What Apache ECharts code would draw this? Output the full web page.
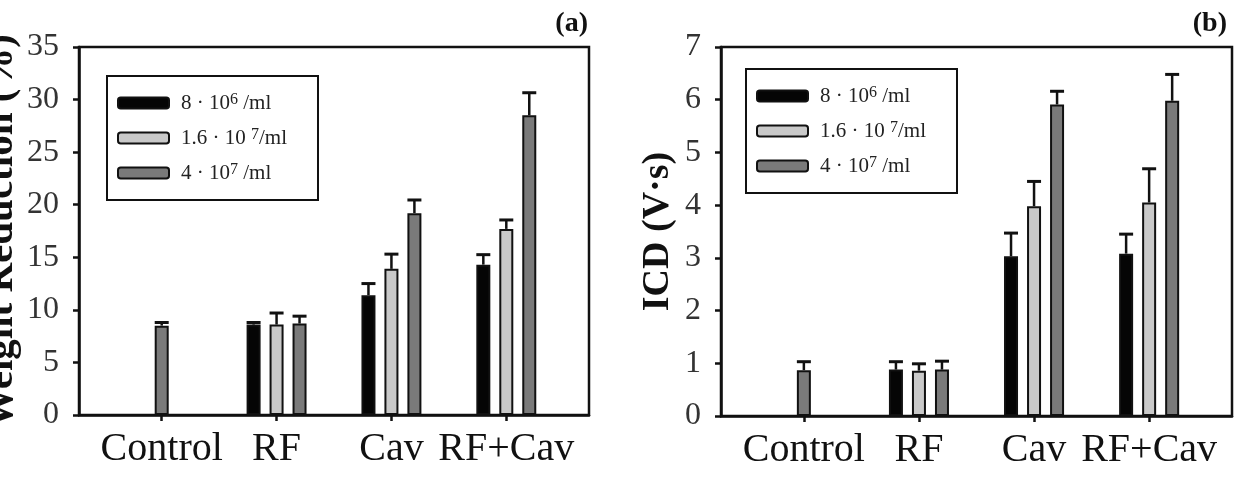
<!DOCTYPE html>
<html>
<head>
<meta charset="utf-8">
<script src="https://cdn.jsdelivr.net/npm/echarts@6/dist/echarts.min.js"></script>
<style>
  html, body { margin: 0; background: #fff; }
  #chart { width: 1242px; height: 477px; }
</style>
</head>
<body>
<div id="chart"></div>
<script>
// categories and series (bubble concentrations)
var categories = ['Control', 'RF', 'Cav', 'RF+Cav'];
var seriesNames = ['8 · 10^6 /ml', '1.6 · 10^7 /ml', '4 · 10^7 /ml'];
var legendLabels = ['8 · 10{s|6} /ml', '1.6 · 10 {s|7}/ml', '4 · 10{s|7} /ml'];

// (a) weight reduction (%)
var wrLow = [null, 8.6, 11.4, 14.3];
var wrMid = [null, 8.6, 13.9, 17.7];
var wrHigh = [8.5, 8.7, 19.2, 28.5];
var wrLowErr = [null, 0.2, 1.1, 0.95];
var wrMidErr = [null, 1.1, 1.4, 0.85];
var wrHighErr = [0.3, 0.7, 1.25, 2.15];

// (b) ICD (V·s)
var icdLow = [null, 0.88, 3.03, 3.08];
var icdMid = [null, 0.86, 3.98, 4.05];
var icdHigh = [0.87, 0.88, 5.91, 5.98];
var icdLowErr = [null, 0.15, 0.44, 0.37];
var icdMidErr = [null, 0.13, 0.47, 0.64];
var icdHighErr = [0.16, 0.16, 0.25, 0.5];

var fills = ['#050505', '#c9c9c9', '#7a7a7a'];
var font = 'Liberation Serif';

// x position of a bar: centered when it is alone in its group
function xPos(group, i, s) {
  var n = group.filter(function (arr) { return arr[i] != null; }).length;
  return n === 1 ? i : i + (s - 1) * 0.2;
}

function makeSeries(group, errs, g) {
  var out = [];
  group.forEach(function (vals, s) {
    var bars = [], eb = [];
    vals.forEach(function (v, i) {
      if (v == null) return;
      var x = xPos(group, i, s);
      bars.push([x, v]);
      eb.push([x, v, v + errs[s][i]]);
    });
    out.push({
      type: 'bar',
      name: seriesNames[s],
      xAxisIndex: g,
      yAxisIndex: g,
      barWidth: 14,
      barGap: '-100%',
      itemStyle: { color: fills[s], borderColor: '#111', borderWidth: 2 },
      data: bars
    });
    out.push({
      type: 'custom',
      xAxisIndex: g,
      yAxisIndex: g,
      z: 5,
      silent: true,
      data: eb,
      renderItem: function (params, api) {
        var base = api.coord([api.value(0), api.value(1)]);
        var top = api.coord([api.value(0), api.value(2)]);
        return {
          type: 'group',
          children: [
            { type: 'line', shape: { x1: base[0], y1: base[1], x2: top[0], y2: top[1] },
              style: { stroke: '#111', lineWidth: 2.5 } },
            { type: 'line', shape: { x1: top[0] - 7, y1: top[1], x2: top[0] + 7, y2: top[1] },
              style: { stroke: '#111', lineWidth: 3 } }
          ]
        };
      }
    });
  });
  return out;
}

function xAxisFor(g) {
  return {
    type: 'value', gridIndex: g, min: -0.72, max: 3.72,
    axisLine: { show: true, onZero: false, lineStyle: { color: '#111', width: 2.5 } },
    axisTick: { show: true, customValues: [0, 1, 2, 3], length: 6, lineStyle: { color: '#111', width: 2.5 } },
    axisLabel: {
      customValues: [0, 1, 2, 3], margin: 14,
      fontFamily: font, fontSize: 40, color: '#111',
      formatter: function (v) { return categories[Math.round(v)]; }
    },
    splitLine: { show: false }
  };
}

function yAxisFor(g, max, interval, name, gap, nameSize) {
  return {
    type: 'value', gridIndex: g, min: 0, max: max, interval: interval,
    name: name, nameLocation: 'middle', nameGap: gap,
    nameTextStyle: { fontFamily: font, fontWeight: 'bold', fontSize: nameSize, color: '#111' },
    axisLine: { show: true, onZero: false, lineStyle: { color: '#111', width: 2.5 } },
    axisTick: { show: true, length: 6, lineStyle: { color: '#111', width: 2.5 } },
    axisLabel: { margin: 20, fontFamily: font, fontSize: 32, color: '#333' },
    splitLine: { show: false }
  };
}

function legendAt(left, top) {
  return {
    orient: 'vertical', left: left, top: top,
    data: seriesNames, icon: 'roundRect', itemWidth: 51, itemHeight: 11, itemGap: 13,
    padding: [16, 31, 16, 10], borderColor: '#111', borderWidth: 2,
    selectedMode: false,
    formatter: function (n) { return '{sp| }' + legendLabels[seriesNames.indexOf(n)]; },
    textStyle: {
      fontFamily: font, fontSize: 21, color: '#222', lineHeight: 22,
      rich: {
        sp: { width: 7 },
        s: { fontSize: 16, verticalAlign: 'top', lineHeight: 14 }
      }
    }
  };
}

var chart = echarts.init(document.getElementById('chart'));
chart.setOption({
  backgroundColor: '#fff',
  animation: false,
  title: [
    { text: '(a)', right: 654, top: 10, padding: 0,
      textStyle: { fontFamily: font, fontWeight: 'bold', fontSize: 28, color: '#111' } },
    { text: '(b)', right: 15, top: 10, padding: 0,
      textStyle: { fontFamily: font, fontWeight: 'bold', fontSize: 28, color: '#111' } }
  ],
  legend: [legendAt(107, 76), legendAt(746, 69)],
  grid: [
    { left: 79, top: 47, width: 510, height: 368, outerBoundsMode: 'none',
      show: true, borderColor: '#111', borderWidth: 2.5 },
    { left: 721, top: 47, width: 511, height: 369, outerBoundsMode: 'none',
      show: true, borderColor: '#111', borderWidth: 2.5 }
  ],
  xAxis: [xAxisFor(0), xAxisFor(1)],
  yAxis: [
    yAxisFor(0, 35, 5, 'Weight Reduction (%)', 57, 41),
    yAxisFor(1, 7, 1, 'ICD (V·s)', 44, 38)
  ],
  series: makeSeries([wrLow, wrMid, wrHigh], [wrLowErr, wrMidErr, wrHighErr], 0)
    .concat(makeSeries([icdLow, icdMid, icdHigh], [icdLowErr, icdMidErr, icdHighErr], 1))
});
</script>
</body>
</html>
